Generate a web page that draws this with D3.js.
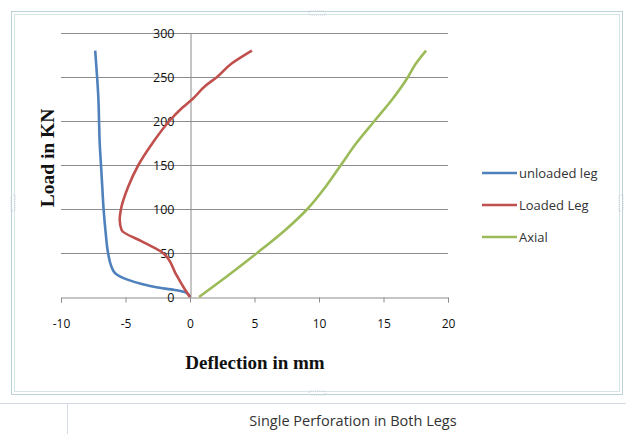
<!DOCTYPE html>
<html>
<head>
<meta charset="utf-8">
<script src="https://cdn.jsdelivr.net/npm/d3@7"></script>
<style>
  body { margin: 0; background: #ffffff; }
  svg { display: block; font-family: "Open Sans", sans-serif; }
</style>
</head>
<body>
<div id="chart"></div>
<script>
// Load vs deflection, single perforation in both legs (Excel-style scatter with lines)
const xTicks = [-10, -5, 0, 5, 10, 15, 20];
const yTicks = [0, 50, 100, 150, 200, 250, 300];

const unloadedLoad = [0, 5, 8, 11, 15, 20, 27, 35, 50, 75, 100, 125, 150, 175, 200, 225, 250, 280];
const unloadedDefl = [0, -0.3, -1.2, -2.6, -3.8, -4.9, -5.8, -6.1, -6.35, -6.55, -6.7, -6.8, -6.9, -7.0, -7.05, -7.1, -7.2, -7.35];

const loadedLoad = [0, 10, 25, 50, 63, 76, 88, 100, 125, 150, 175, 200, 215, 225, 240, 250, 265, 280];
const loadedDefl = [0, -0.45, -1.05, -2.1, -3.7, -5.3, -5.45, -5.35, -4.8, -4.0, -2.9, -1.6, -0.6, 0.2, 1.2, 2.1, 3.2, 4.8];

const axialLoad = [0, 25, 50, 75, 100, 125, 150, 175, 200, 225, 250, 265, 280];
const axialDefl = [0.7, 3.0, 5.2, 7.3, 9.1, 10.5, 11.7, 12.9, 14.3, 15.7, 16.9, 17.5, 18.3];

const seriesNames = ['unloaded leg', 'Loaded Leg', 'Axial'];
const seriesColors = ['#4f81bd', '#c0504d', '#9bbb59'];

const series = [
  { name: seriesNames[0], color: seriesColors[0], pts: unloadedLoad.map((l, i) => ({ x: unloadedDefl[i], y: l })) },
  { name: seriesNames[1], color: seriesColors[1], pts: loadedLoad.map((l, i) => ({ x: loadedDefl[i], y: l })) },
  { name: seriesNames[2], color: seriesColors[2], pts: axialLoad.map((l, i) => ({ x: axialDefl[i], y: l })) }
];

const W = 626, H = 434;
const svg = d3.select('#chart').append('svg').attr('width', W).attr('height', H);

// spreadsheet cells below the chart object
const cellLine = '#d4dbe6';
svg.append('line').attr('x1', 0).attr('x2', W).attr('y1', 403.5).attr('y2', 403.5).attr('stroke', cellLine);
svg.append('line').attr('x1', 67.5).attr('x2', 67.5).attr('y1', 403).attr('y2', H).attr('stroke', cellLine);
svg.append('text').attr('x', 353).attr('y', 426).attr('text-anchor', 'middle')
  .attr('font-size', 14.5).attr('fill', '#333').text('Single Perforation in Both Legs');

// selected chart frame
svg.append('rect').attr('x', 11.5).attr('y', 11.5).attr('width', 611).attr('height', 383)
  .attr('fill', '#fff').attr('stroke', '#bcd2d6').attr('stroke-width', 1);
svg.append('rect').attr('x', 14.5).attr('y', 14.5).attr('width', 605).attr('height', 377)
  .attr('fill', 'none').attr('stroke', '#d6e4e7').attr('stroke-width', 1);
[[317, 13], [317, 393], [13, 203], [621, 203]].forEach(([hx, hy]) => {
  svg.append('rect').attr('x', hx - 8).attr('y', hy - 2).attr('width', 16).attr('height', 4)
    .attr('fill', 'none').attr('stroke', '#c9d5d8').attr('stroke-dasharray', '1,1')
    .attr('transform', (hx < 20 || hx > 600) ? `rotate(90,${hx},${hy})` : null);
});

const x = d3.scaleLinear().domain([-10, 20]).range([61, 448]);
const y = d3.scaleLinear().domain([0, 300]).range([297, 33]);
const grid = '#8c8c8c';

// horizontal gridlines
svg.append('g').selectAll('line').data(yTicks.filter(t => t > 0)).enter().append('line')
  .attr('x1', x(-10)).attr('x2', x(20))
  .attr('y1', d => Math.round(y(d)) + 0.5).attr('y2', d => Math.round(y(d)) + 0.5)
  .attr('stroke', grid).attr('stroke-width', 1);

// x axis at load = 0 (plain hyphen minus like Excel)
const xAxis = svg.append('g').attr('transform', `translate(0,${Math.round(y(0)) + 0.5})`)
  .call(d3.axisBottom(x).tickValues(xTicks).tickSize(5).tickPadding(17).tickFormat(d => String(d)));
xAxis.select('.domain').attr('stroke', grid);
xAxis.selectAll('line').attr('stroke', grid);
xAxis.selectAll('text').attr('font-size', 12).attr('fill', '#111').attr('font-family', '"Open Sans", sans-serif');

// y axis at deflection = 0, labels sit left of it
const yAxis = svg.append('g').attr('transform', `translate(${Math.round(x(0)) + 0.5},0)`)
  .call(d3.axisLeft(y).tickValues(yTicks).tickSize(0).tickPadding(16));
yAxis.select('.domain').attr('stroke', grid);
yAxis.selectAll('text').attr('font-size', 12.5).attr('fill', '#111').attr('font-family', '"Open Sans", sans-serif');

// series lines
const line = d3.line().x(d => x(d.x)).y(d => y(d.y)).curve(d3.curveMonotoneY);
svg.append('g').selectAll('path').data(series).enter().append('path')
  .attr('d', d => line(d.pts)).attr('fill', 'none')
  .attr('stroke', d => d.color).attr('stroke-width', 2.6).attr('stroke-linejoin', 'round');

// legend
const leg = svg.append('g').selectAll('g').data(series).enter().append('g')
  .attr('transform', (d, i) => `translate(482,${173 + i * 32})`);
leg.append('line').attr('x1', 0).attr('x2', 35).attr('stroke', d => d.color).attr('stroke-width', 2.6);
leg.append('text').attr('x', 37).attr('dy', '0.35em').attr('font-size', 13).attr('fill', '#333')
  .text(d => d.name);

// axis titles
svg.append('text').attr('transform', 'translate(54,158) rotate(-90)').attr('text-anchor', 'middle')
  .attr('font-family', '"Liberation Serif", serif').attr('font-weight', 'bold').attr('font-size', 19.5)
  .attr('fill', '#111').text('Load in KN');
svg.append('text').attr('x', 255).attr('y', 369).attr('text-anchor', 'middle')
  .attr('font-family', '"Liberation Serif", serif').attr('font-weight', 'bold').attr('font-size', 19)
  .attr('fill', '#111').text('Deflection in mm');
</script>
</body>
</html>
